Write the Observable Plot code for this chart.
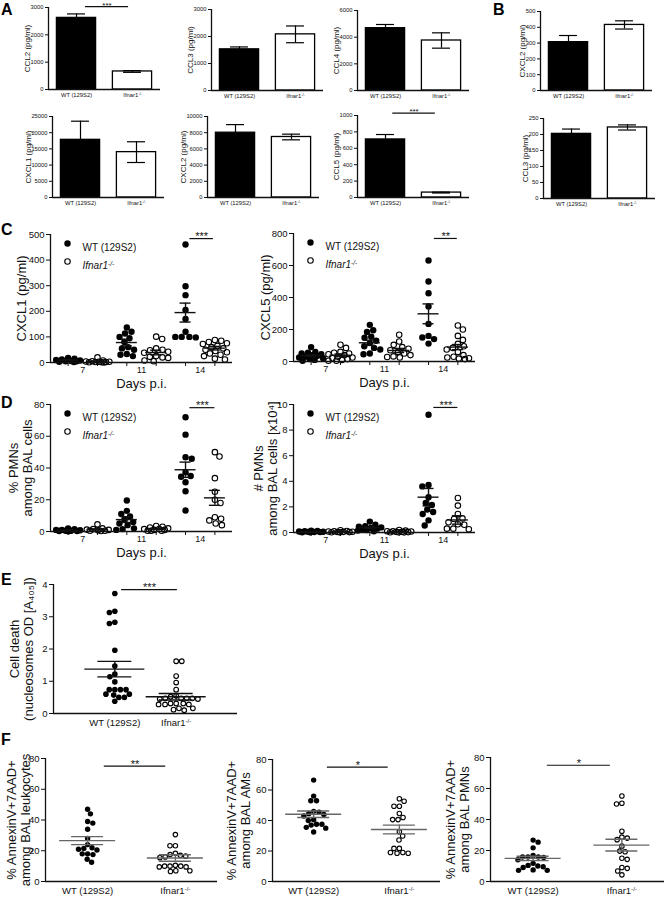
<!DOCTYPE html>
<html><head><meta charset="utf-8">
<script src="https://cdn.jsdelivr.net/npm/d3@7"></script>
<script src="https://cdn.jsdelivr.net/npm/@observablehq/plot@0.6"></script>
<style>
html,body{margin:0;padding:0;background:#fff;}
#fig{position:relative;width:666px;height:897px;overflow:hidden;background:#fff;}
.panel{position:absolute;}
#fig svg{background:transparent !important;max-width:none !important;overflow:visible;}
</style></head><body><div id="fig"></div>
<script>
// ---------------- DATA ----------------
const genotypes = ["WT (129S2)", "Ifnar1-/-"];
const days = ["7", "11", "14"];

// Panel A / B : mean, SEM (pg/ml)
const CCL2 = [2620, 660],      CCL2_sem = [145, 32];
const CCL3 = [1525, 2080],     CCL3_sem = [88, 310];
const CCL4 = [4675, 3750],     CCL4_sem = [275, 575];
const CXCL2_B = [306, 415],    CXCL2_B_sem = [42, 26];
const CXCL1_A = [17800, 14000],CXCL1_A_sem = [5750, 3200];
const CXCL2_A = [8000, 7470],  CXCL2_A_sem = [1000, 350];
const CCL5 = [708, 60],        CCL5_sem = [60, 5];
const CCL3_B = [202, 222],     CCL3_B_sem = [15, 8];

// Panel C : CXCL1 (pg/ml) per day [7, 11, 14]
const CXCL1_WT = [[18,15,12,10,8,6,5,5,3,2],[137,120,113,100,95,80,60,55,50,33,30,25],[461,298,263,205,170,120,100,100,98,100]];
const CXCL1_KO = [[20,8,5,4,3,3,2,2,1,1,0],[101,92,55,50,48,42,38,25,22,20,18,8,5],[88,85,80,75,72,65,60,55,50,45,40,35,30,25,15,12]];
const CXCL1_mean = [9,4,78,39,195,56], CXCL1_sem = [2,1.8,13,9,37,7];
// Panel C : CXCL5
const CXCL5_WT = [[90,60,55,50,45,40,35,30,25,20,15,10,5],[229,195,185,155,148,130,115,95,85,75,50,45],[631,500,427,344,235,160,150,140,112]];
const CXCL5_KO = [[105,85,60,55,50,45,40,30,25,20,15,10,5,5],[167,125,104,90,80,70,60,50,40,32,28,25],[225,200,160,135,110,95,85,75,60,40,30,25,20,18,15]];
const CXCL5_mean = [37,39,117,69,298,90], CXCL5_sem = [6,8,16,13,62,16];
// Panel D : % PMNs
const PMNpct_WT = [[2,1.5,1,1,0.8,0.5,0.5,0.3,0.3,0.2],[19.5,13,11,9.5,7.5,6,5,4,2,1.5,1],[72,61,46.8,45.8,37.4,35,34.5,31,25.4,13.2]];
const PMNpct_KO = [[4.5,2,1.5,1.2,1,0.8,0.5,0.5,0.3],[3.5,3,2.5,2,1.5,1.5,1,1,0.5,0.5,0.5],[50,47.2,33.6,25,20,18,9,8,7,5,4]];
const PMNpct_mean = [0.8,1.3,7.5,1.6,38.9,21.2], PMNpct_sem = [0.2,0.4,1.8,0.3,4.8,4.7];
// Panel D : # PMNs (x10^4)
const PMNnum_WT = [[0.15,0.12,0.1,0.08,0.06,0.05,0.04,0.03,0.02,0.01],[0.85,0.6,0.5,0.45,0.4,0.35,0.3,0.25,0.2,0.15,0.1],[9.2,3.72,3.6,2.75,2.3,2.15,1.8,1.6,1.45,0.95,0.55]];
const PMNnum_KO = [[0.18,0.12,0.1,0.08,0.06,0.05,0.04,0.03,0.02,0.01],[0.2,0.15,0.1,0.1,0.08,0.05,0.05,0.03,0.02,0.02,0.01],[2.7,2.1,1.45,1.1,1.05,0.8,0.65,0.6,0.3,0.3,0.25]];
const PMNnum_mean = [0.07,0.07,0.38,0.07,2.76,0.98], PMNnum_sem = [0.015,0.02,0.07,0.02,0.68,0.33];
// Panel E : nucleosomes OD
const E_WT = [3.72,3.17,3.13,2.79,2.83,1.96,1.47,1.22,1.14,0.98,0.74,0.74,0.74,0.74,0.57,0.6,0.6,0.5,0.5,0.38];
const E_KO = [1.62,1.62,1.16,0.96,0.74,0.52,0.45,0.47,0.45,0.47,0.47,0.47,0.55,0.28,0.28,0.31,0.31,0.31,0.28,0.16,0.1,0.12,0.16];
const E_mean = [1.375,0.52], E_sem = [0.24,0.1];
// Panel F : % AnnexinV+7AAD+
const F1_WT = [47,44,39,38,34,28,24,22,21.5,21,20.5,18,18,17.5,14.5,12.5];
const F1_KO = [30.5,23.3,23.3,18.3,17.5,16.5,16,15.5,17,10.5,10,9.5,9.5,10,10,7,6.5,7];
const F1_mean = [26.6,15.3], F1_sem = [2.6,2.1];
const F2_WT = [66.5,56,53,53,46,45.5,44,43,44.5,40.5,40,37.5,37,37.5,35,35.5,32.5];
const F2_KO = [54.3,52.6,49.3,49.3,44.6,42,40.6,40.6,32.6,29.8,27.2,21.7,19,18.5,18.5,19,21.7];
const F2_mean = [44.1,34.1], F2_sem = [2.1,2.9];
const F3_WT = [26.7,25.4,21.7,16.8,15.8,15.8,15.8,15.5,14,10.4,9,9.5,10,11.7,7.2,7.2,7.5];
const F3_KO = [55.2,50.5,50,32.4,28,27,28.6,22.8,19.2,19.6,14.3,15,8.5,6.8,9,4.3];
const F3_mean = [14.9,23.5], F3_sem = [1.4,3.8];

// significance annotations (x in group units, y in data units)
const sigCCL2 = {x1: 0.16, x2: 0.93, y: 3030, label: "***"};
const sigCCL5 = {x1: 0.13, x2: 0.89, y: 1030, label: "***"};
const sigCXCL1 = {x1: 4.15, x2: 4.95, y: 484, label: "***"};
const sigCXCL5 = {x1: 4.2, x2: 4.98, y: 769, label: "**"};
const sigPMNpct = {x1: 4.15, x2: 5.0, y: 78, label: "***"};
const sigPMNnum = {x1: 4.18, x2: 5.0, y: 9.77, label: "***"};
const sigE = {x1: 0.11, x2: 1.02, y: 3.84, label: "***"};
const sigF1 = {x1: 0.19, x2: 0.89, y: 75, label: "**"};
const sigF2 = {x1: 0.16, x2: 0.87, y: 75, label: "*"};
const sigF3 = {x1: 0.16, x2: 0.87, y: 75, label: "*"};

// ---------------- HELPERS ----------------
const FONT = '"Liberation Sans", Arial, Helvetica, sans-serif';
const INK = "#111";
const fig = document.getElementById("fig");
const svgNS = "http://www.w3.org/2000/svg";

function supFix(root) {
  root.querySelectorAll("text, tspan").forEach(el => {
    [...el.childNodes].forEach(node => {
      if (node.nodeType === 3 && node.nodeValue.includes("-/-")) {
        node.nodeValue = node.nodeValue.split("-/-")[0];
        const ts = document.createElementNS(svgNS, "tspan");
        ts.setAttribute("dy", "-0.45em");
        ts.style.fontSize = "0.65em";
        ts.textContent = "-/-";
        el.insertBefore(ts, node.nextSibling);
      }
    });
  });
}

function makePlot(o) {
  const m = {l: 64, r: 14, t: 30, b: 40};
  const W = o.X2 - o.X1 + m.l + m.r, H = o.Y2 - o.Y1 + m.t + m.b;
  const svg = Plot.plot({
    width: W, height: H, marginLeft: m.l, marginRight: m.r, marginTop: m.t, marginBottom: m.b,
    style: {fontFamily: FONT, fontSize: o.fs + "px", background: "transparent", color: INK, overflow: "visible"},
    x: {domain: o.xDomain, ticks: o.xTicks, tickFormat: o.xFmt, tickSize: o.xTickSize, tickPadding: o.xTickPad, label: null},
    y: {domain: o.yDomain, ticks: o.yTicks, tickFormat: d => String(d), tickSize: o.yTickSize, tickPadding: 2, label: null},
    marks: [
      ...o.marks,
      Plot.ruleX([o.xDomain[0]], {y1: o.yDomain[0], y2: o.yDomain[1], stroke: INK, strokeWidth: 1.3}),
      Plot.ruleY([o.yDomain[0]], {stroke: INK, strokeWidth: 1.3})
    ]
  });
  supFix(svg);
  const div = document.createElement("div");
  div.className = "panel";
  div.style.left = (o.X1 - m.l) + "px";
  div.style.top = (o.Y1 - m.t) + "px";
  div.style.width = W + "px";
  div.style.height = H + "px";
  div.appendChild(svg);
  fig.appendChild(div);
}

function sigMarks(sig, fs, dy) {
  if (!sig) return [];
  return [
    Plot.ruleY([sig], {y: "y", x1: "x1", x2: "x2", stroke: INK, strokeWidth: 1.2}),
    Plot.text([sig], {x: d => (d.x1 + d.x2) / 2, y: "y", text: "label", dy, fontSize: fs})
  ];
}

function yLabel(text, dx, fs) {
  return Plot.text([text], {frameAnchor: "left", textAnchor: "middle", rotate: -90, dx, fontSize: fs, lineHeight: 1.12, text: d => d});
}

function barChart(c) {
  const data = genotypes.map((g, i) => ({i, v: c.values[i], s: c.sem[i]}));
  const hw = 0.35, cap = 0.16;
  const yTicks = d3.range(0, c.yMax + 1, c.yStep);
  makePlot({
    X1: c.X1, X2: c.X1 + 112, Y1: c.Y1, Y2: c.Y2, fs: 5.8,
    xDomain: [-0.5, 1.5], xTicks: [0, 1], xFmt: i => genotypes[i], xTickSize: 0, xTickPad: 3,
    yDomain: [0, c.yMax], yTicks, yTickSize: 3,
    marks: [
      Plot.rect(data, {filter: d => d.i === 0, x1: d => d.i - hw, x2: d => d.i + hw, y1: 0, y2: "v", fill: "#000", stroke: "#000", strokeWidth: 1.3}),
      Plot.rect(data, {filter: d => d.i === 1, x1: d => d.i - hw, x2: d => d.i + hw, y1: 0, y2: "v", fill: "#fff", stroke: "#000", strokeWidth: 1.3}),
      Plot.ruleX(data, {x: "i", y1: d => d.v - d.s, y2: d => d.v + d.s, stroke: "#000", strokeWidth: 1.2}),
      Plot.ruleY(data, {y: d => d.v + d.s, x1: d => d.i - cap, x2: d => d.i + cap, stroke: "#000", strokeWidth: 1.2}),
      Plot.ruleY(data, {y: d => d.v - d.s, x1: d => d.i - cap, x2: d => d.i + cap, stroke: "#000", strokeWidth: 1.2}),
      yLabel(c.ylabel, c.ldx, 8),
      ...sigMarks(c.sig, 8, -1.5)
    ]
  });
}

function swarm(vals, toPx, r, limit) {
  const D = 2 * r;
  const idx = vals.map((_, i) => i).sort((a, b) => vals[b] - vals[a]);
  const placed = [], off = [];
  let flip = 1;
  for (const i of idx) {
    const y = toPx(vals[i]);
    const near = placed.filter(p => Math.abs(p.y - y) < D);
    const cands = [0];
    for (const p of near) { const dx = Math.sqrt(D * D - (p.y - y) ** 2); cands.push(p.x + dx, p.x - dx); }
    for (let g = -limit; g <= limit; g += 0.5) cands.push(g);
    const ok = cc => near.every(p => (p.x - cc) ** 2 + (p.y - y) ** 2 >= D * D - 0.01);
    const valid = cands.filter(cc => Math.abs(cc) <= limit + 0.01 && ok(cc));
    let best = 0;
    if (valid.length) {
      valid.sort((a, b) => (Math.abs(a) - Math.abs(b)) || (a - b) * flip);
      best = valid[0];
    } else {
      let bd = -1;
      for (const cc of cands) {
        if (Math.abs(cc) > limit + 0.01) continue;
        const md = Math.min(...near.map(p => Math.hypot(p.x - cc, p.y - y)));
        if (md > bd) { bd = md; best = cc; }
      }
    }
    flip = -flip;
    placed.push({x: best, y});
    off[i] = best;
  }
  return off;
}

function scatterChart(c) {
  const w = c.X2 - c.X1, h = c.Y2 - c.Y1;
  const unitPx = w / (c.xDomain[1] - c.xDomain[0]);
  const toPx = v => (v - c.yDomain[0]) / (c.yDomain[1] - c.yDomain[0]) * h;
  const pts = [], stats = [];
  c.groups.forEach(g => {
    const off = swarm(g.values, toPx, c.r, c.spread);
    g.values.forEach((v, i) => pts.push({x: g.x + off[i] / unitPx, y: v, filled: g.filled}));
    stats.push({x: g.x, m: g.mean, lo: g.mean - g.sem, hi: g.mean + g.sem});
  });
  const mh = c.meanHalf / unitPx, ch = c.capHalf / unitPx;
  const mc = c.meanColor || INK;
  const marks = [
    Plot.dot(pts, {filter: d => d.filled, x: "x", y: "y", r: c.r, fill: "#000", stroke: "none"}),
    Plot.dot(pts, {filter: d => !d.filled, x: "x", y: "y", r: c.r - 0.45, fill: "none", stroke: "#000", strokeWidth: 1.1}),
    Plot.ruleY(stats, {y: "m", x1: d => d.x - mh, x2: d => d.x + mh, stroke: mc, strokeWidth: 1.4}),
    Plot.ruleY(stats, {y: "hi", x1: d => d.x - ch, x2: d => d.x + ch, stroke: mc, strokeWidth: 1.4}),
    Plot.ruleY(stats, {y: "lo", x1: d => d.x - ch, x2: d => d.x + ch, stroke: mc, strokeWidth: 1.4}),
    Plot.ruleX(stats, {x: "x", y1: "lo", y2: "hi", stroke: mc, strokeWidth: 1.4}),
    yLabel(c.ylabel, c.ldx, c.lfs),
    ...sigMarks(c.sig, c.sigFs || 11, -2)
  ];
  if (c.days) {
    const dayPos = days.map((d, i) => ({x: 2 * i + 0.5, label: d}));
    marks.push(
      Plot.text(dayPos, {x: "x", text: "label", frameAnchor: "bottom", dy: 10, fontSize: 9}),
      Plot.text(["Days p.i."], {frameAnchor: "bottom", dy: 25, fontSize: 13, text: d => d}),
      Plot.dot([0], {frameAnchor: "top-left", dx: 17, dy: 9, r: c.r, fill: "#000", stroke: "none"}),
      Plot.dot([0], {frameAnchor: "top-left", dx: 17, dy: 27, r: c.r - 0.45, fill: "none", stroke: "#000", strokeWidth: 1.1}),
      Plot.text(["WT (129S2)"], {frameAnchor: "top-left", dx: 32, dy: 9, textAnchor: "start", fontSize: 10, text: d => d}),
      Plot.text([genotypes[1]], {frameAnchor: "top-left", dx: 32, dy: 27, textAnchor: "start", fontSize: 10, fontStyle: "italic", text: d => d})
    );
  }
  makePlot({
    X1: c.X1, X2: c.X2, Y1: c.Y1, Y2: c.Y2, fs: c.fs,
    xDomain: c.xDomain,
    xTicks: c.days ? [0, 1, 2, 3, 4, 5] : [0, 1],
    xFmt: c.days ? (() => "") : (i => genotypes[i]),
    xTickSize: c.days ? 4 : 0, xTickPad: c.days ? 2 : 6,
    yDomain: c.yDomain, yTicks: c.yTicks, yTickSize: 4,
    marks
  });
}

function dayGroups(wt, ko, mean, sem) {
  const out = [];
  for (let d = 0; d < 3; d++) {
    out.push({x: 2 * d, values: wt[d], filled: true, mean: mean[2 * d], sem: sem[2 * d]});
    out.push({x: 2 * d + 1, values: ko[d], filled: false, mean: mean[2 * d + 1], sem: sem[2 * d + 1]});
  }
  return out;
}
function twoGroups(wt, ko, mean, sem) {
  return [{x: 0, values: wt, filled: true, mean: mean[0], sem: sem[0]},
          {x: 1, values: ko, filled: false, mean: mean[1], sem: sem[1]}];
}

// ---------------- PANEL A / B ----------------
barChart({values: CCL2, sem: CCL2_sem, ylabel: "CCL2 (pg/ml)", yMax: 3000, yStep: 1000, X1: 48, Y1: 7, Y2: 89, ldx: -21, sig: sigCCL2});
barChart({values: CCL3, sem: CCL3_sem, ylabel: "CCL3 (pg/ml)", yMax: 3000, yStep: 1000, X1: 211, Y1: 9, Y2: 90, ldx: -21});
barChart({values: CCL4, sem: CCL4_sem, ylabel: "CCL4 (pg/ml)", yMax: 6000, yStep: 2000, X1: 357, Y1: 10, Y2: 90, ldx: -21});
barChart({values: CXCL2_B, sem: CXCL2_B_sem, ylabel: "CXCL2 (pg/ml)", yMax: 500, yStep: 100, X1: 540, Y1: 11, Y2: 90, ldx: -18});
barChart({values: CXCL1_A, sem: CXCL1_A_sem, ylabel: "CXCL1 (pg/ml)", yMax: 25000, yStep: 5000, X1: 52, Y1: 116, Y2: 197, ldx: -24});
barChart({values: CXCL2_A, sem: CXCL2_A_sem, ylabel: "CXCL2 (pg/ml)", yMax: 10000, yStep: 2000, X1: 207, Y1: 116, Y2: 197, ldx: -24});
barChart({values: CCL5, sem: CCL5_sem, ylabel: "CCL5 (pg/ml)", yMax: 1000, yStep: 200, X1: 357, Y1: 115, Y2: 197, ldx: -21, sig: sigCCL5});
barChart({values: CCL3_B, sem: CCL3_B_sem, ylabel: "CCL3 (pg/ml)", yMax: 250, yStep: 50, X1: 543, Y1: 118, Y2: 198, ldx: -18});

// ---------------- PANEL C / D ----------------
const cdCommon = {xDomain: [-0.6, 5.6], r: 3.2, spread: 12, meanHalf: 10.5, capHalf: 5.5, fs: 9.5, lfs: 13, days: true};
scatterChart({...cdCommon, X1: 50, X2: 232, Y1: 234, Y2: 362, yDomain: [0, 500], yTicks: d3.range(0, 501, 100),
  ylabel: "CXCL1 (pg/ml)", ldx: -29, groups: dayGroups(CXCL1_WT, CXCL1_KO, CXCL1_mean, CXCL1_sem), sig: sigCXCL1});
scatterChart({...cdCommon, X1: 293, X2: 475, Y1: 233, Y2: 361, yDomain: [0, 800], yTicks: d3.range(0, 801, 200),
  ylabel: "CXCL5 (pg/ml)", ldx: -28, groups: dayGroups(CXCL5_WT, CXCL5_KO, CXCL5_mean, CXCL5_sem), sig: sigCXCL5});
scatterChart({...cdCommon, X1: 50, X2: 232, Y1: 404, Y2: 531, yDomain: [0, 80], yTicks: d3.range(0, 81, 20),
  ylabel: "% PMNs\namong BAL cells", ldx: -30, groups: dayGroups(PMNpct_WT, PMNpct_KO, PMNpct_mean, PMNpct_sem), sig: sigPMNpct});
scatterChart({...cdCommon, X1: 293, X2: 475, Y1: 404, Y2: 532, yDomain: [0, 10], yTicks: d3.range(0, 11, 2),
  ylabel: "# PMNs\namong BAL cells [x10\u2074]", ldx: -28, groups: dayGroups(PMNnum_WT, PMNnum_KO, PMNnum_mean, PMNnum_sem), sig: sigPMNnum});

// ---------------- PANEL E ----------------
scatterChart({X1: 53, X2: 237, Y1: 584, Y2: 713, xDomain: [-1, 2], yDomain: [0, 4], yTicks: [0, 1, 2, 3, 4],
  r: 2.8, spread: 30, meanHalf: 30, capHalf: 17, fs: 9.5, lfs: 13,
  ylabel: "Cell death\n(nucleosomes OD [A\u2084\u2080\u2085])", ldx: -32, groups: twoGroups(E_WT, E_KO, E_mean, E_sem), sig: sigE});

// ---------------- PANEL F ----------------
const fCommon = {xDomain: [-0.48, 1.48], yDomain: [0, 80], yTicks: d3.range(0, 81, 20), r: 2.7, spread: 24,
  meanHalf: 28, capHalf: 16, fs: 9.5, lfs: 13, meanColor: "#666", sigFs: 11};
scatterChart({...fCommon, X1: 45, X2: 217, Y1: 758, Y2: 881, ylabel: "% AnnexinV+7AAD+\namong BAL leukocytes", ldx: -27,
  groups: twoGroups(F1_WT, F1_KO, F1_mean, F1_sem), sig: sigF1});
scatterChart({...fCommon, X1: 272, X2: 440, Y1: 759, Y2: 881, ylabel: "% AnnexinV+7AAD+\namong BAL AMs", ldx: -34,
  groups: twoGroups(F2_WT, F2_KO, F2_mean, F2_sem), sig: sigF2});
scatterChart({...fCommon, X1: 490, X2: 664, Y1: 757, Y2: 881, ylabel: "% AnnexinV+7AAD+\namong BAL PMNs", ldx: -33,
  groups: twoGroups(F3_WT, F3_KO, F3_mean, F3_sem), sig: sigF3});

// ---------------- PANEL LETTERS ----------------
const letters = [["A", 1, 15], ["B", 493, 15], ["C", 1, 235], ["D", 1, 408], ["E", 1, 585], ["F", 1, 745]];
const ov = d3.select(fig).append("svg").attr("width", 666).attr("height", 897)
  .style("position", "absolute").style("left", "0px").style("top", "0px").style("pointer-events", "none");
ov.selectAll("text").data(letters).join("text")
  .attr("x", d => d[1]).attr("y", d => d[2]).text(d => d[0])
  .attr("font-family", FONT).attr("font-weight", "bold").attr("font-size", 16).attr("fill", "#000");
</script></body></html>
